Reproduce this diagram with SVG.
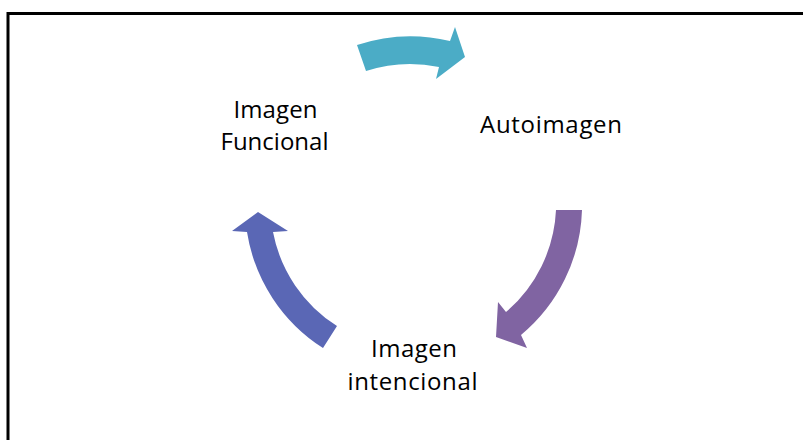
<svg xmlns="http://www.w3.org/2000/svg" width="803" height="440" viewBox="0 0 803 440">
<style>
.lbl{font-family:"Open Sans","Liberation Sans",sans-serif;font-size:24px;fill:#000;text-anchor:middle}
</style>
<rect x="0" y="0" width="803" height="440" fill="#fff"/>
<rect x="8" y="13.5" width="820" height="450" fill="none" stroke="#000" stroke-width="3"/>
<g id="connectors">
<path id="arrow-cyan" d="M357,45 A169,169 0 0 1 450,41 L455,27 L465,57 L436,79 L439,67 A143,143 0 0 0 366,71 Z" fill="#4BACC6"/>
<path id="arrow-purple" d="M582,210 A169,169 0 0 1 521,335 L527,348 L496,337 L498,302 L506,312 A143,143 0 0 0 556,210 Z" fill="#8064A2"/>
<path id="arrow-blue" d="M323,348 A169,169 0 0 1 247,232 L232,231 L258,212 L288,231 L273,232 A143,143 0 0 0 337,326 Z" fill="#5A67B5"/>
</g>
<g id="node-funcional">
<text class="lbl" x="275.5" y="118" textLength="84" lengthAdjust="spacing">Imagen</text>
<text class="lbl" x="274.5" y="150" textLength="108" lengthAdjust="spacing">Funcional</text>
</g>
<g id="node-autoimagen">
<text class="lbl" x="551" y="133" textLength="142" lengthAdjust="spacing">Autoimagen</text>
</g>
<g id="node-intencional">
<text class="lbl" x="414" y="357" textLength="86" lengthAdjust="spacing">Imagen</text>
<text class="lbl" x="412.5" y="390" textLength="130" lengthAdjust="spacing">intencional</text>
</g>
</svg>
